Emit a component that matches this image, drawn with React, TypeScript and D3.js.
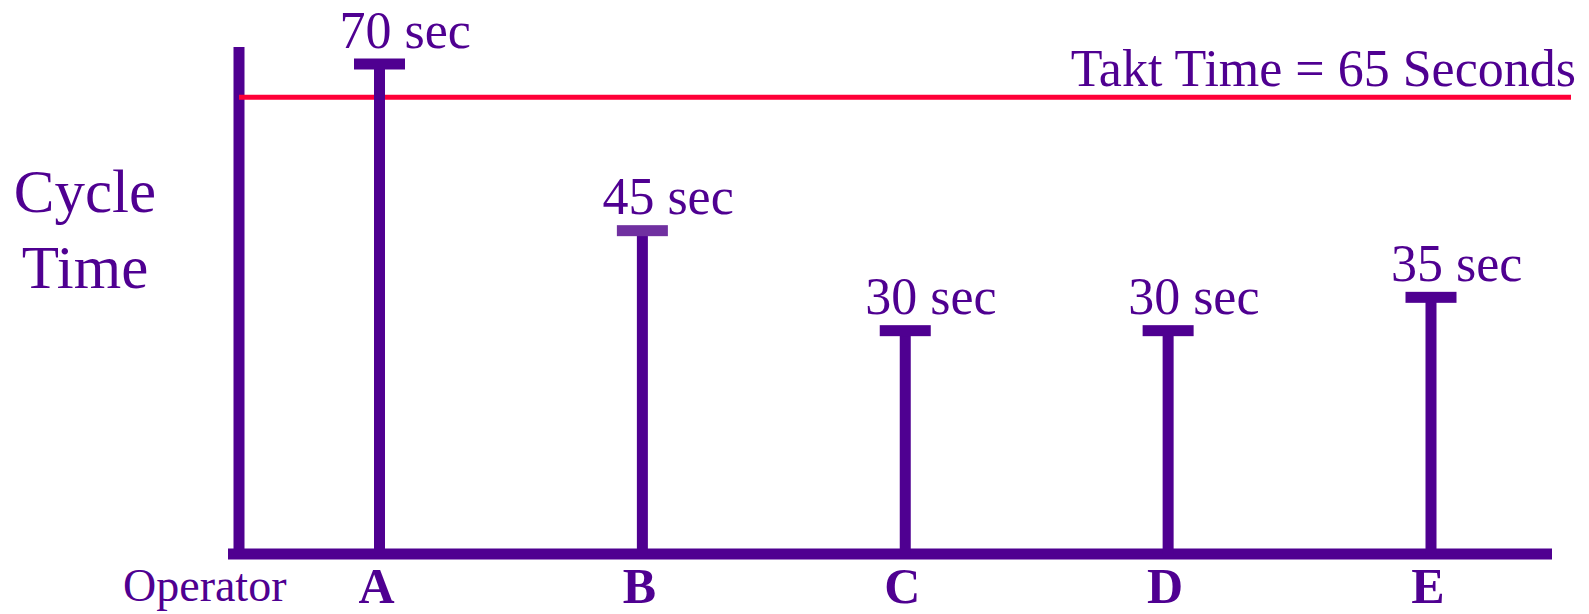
import React, { useEffect } from "react";
import * as d3 from "d3";

const operators = ["A", "B", "C", "D", "E"];
const cycleTimes = [70, 45, 30, 30, 35];
const valueLabels = ["70 sec", "45 sec", "30 sec", "30 sec", "35 sec"];
const taktTime = 65;
const taktLabel = "Takt Time = 65 Seconds";
const yTitle = ["Cycle", "Time"];
const xTitle = "Operator";

const W = 1589;
const H = 614;
const PURPLE = "#4f0091";
const LIGHT_PURPLE = "#7030a0";
const RED = "#ff0038";
const FONT = "'Liberation Serif', 'Times New Roman', serif";

export default function App() {
  useEffect(() => {
    document.body.style.margin = "0";
  }, []);

  const axisX = 239;
  const axisY = 554;
  const x = d3.scalePoint<string>().domain(operators).range([379.5, 1431]);
  const y = d3.scaleLinear().domain([-3.5, 70]).range([axisY, 64]);

  const capW = 51;
  const capH = 11;
  const stemW = 11;

  return (
    <svg width={W} height={H} style={{ display: "block", background: "#fff" }} fontFamily={FONT}>
      {/* y axis */}
      <line x1={axisX} x2={axisX} y1={47} y2={axisY} stroke={PURPLE} strokeWidth={11} />
      {/* x axis */}
      <line x1={228} x2={1552} y1={axisY} y2={axisY} stroke={PURPLE} strokeWidth={11} />

      {/* takt line */}
      <line x1={axisX} x2={1571} y1={y(taktTime)} y2={y(taktTime)} stroke={RED} strokeWidth={5} />
      <text x={1576} y={y(taktTime) - 11} textAnchor="end" fontSize={52} fill={PURPLE}>
        {taktLabel}
      </text>

      {/* stems */}
      {operators.map((op, i) => {
        const cx = x(op) as number;
        const cy = y(cycleTimes[i]);
        return (
          <g key={op}>
            <rect x={cx - stemW / 2} y={cy} width={stemW} height={axisY - cy} fill={PURPLE} />
            <rect
              x={cx - capW / 2}
              y={cy - capH / 2}
              width={capW}
              height={capH}
              fill={i === 1 ? LIGHT_PURPLE : PURPLE}
            />
            <text x={cx - 40} y={cy - capH / 2 - 11} fontSize={52} fill={PURPLE}>
              {valueLabels[i]}
            </text>
            <text x={cx - 3} y={603} textAnchor="middle" fontSize={50} fontWeight="bold" fill={PURPLE}>
              {op}
            </text>
          </g>
        );
      })}

      {/* axis titles */}
      {yTitle.map((t, i) => (
        <text key={t} x={85} y={212 + i * 76} textAnchor="middle" fontSize={61} fill={PURPLE}>
          {t}
        </text>
      ))}
      <text x={123} y={601} fontSize={46} fill={PURPLE}>
        {xTitle}
      </text>
    </svg>
  );
}
